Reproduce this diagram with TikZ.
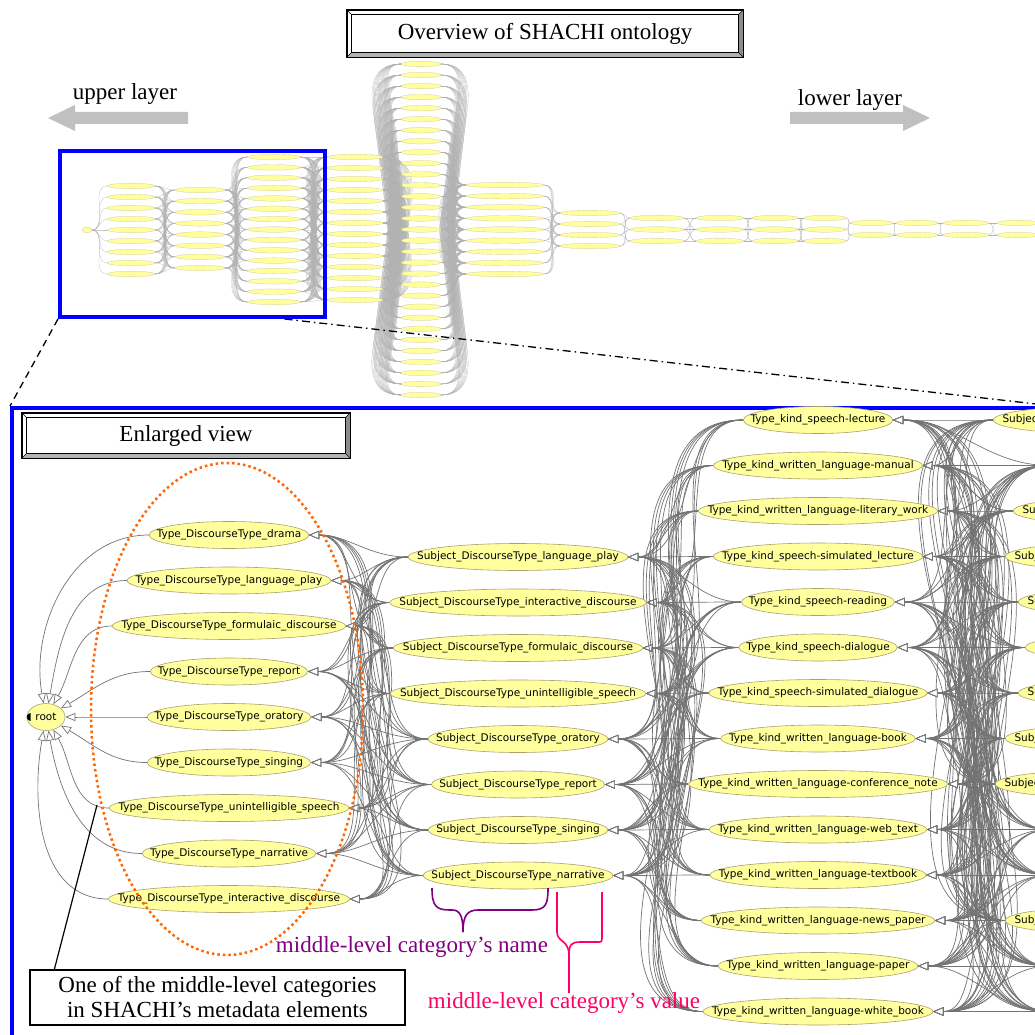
\documentclass[tikz,border=0pt]{standalone}
\usepackage{fontspec}
\setmainfont{Liberation Serif}
\newfontfamily\ontofont{DejaVu Sans}
\usetikzlibrary{arrows.meta,positioning,shapes.geometric,backgrounds}

\definecolor{ontofill}{RGB}{255,255,158}
\definecolor{ontoline}{RGB}{170,160,110}
\definecolor{edgegray}{RGB}{115,115,115}
\definecolor{layergray}{RGB}{192,192,192}
\definecolor{ovalorange}{RGB}{255,102,0}
\definecolor{namepurple}{RGB}{128,0,128}
\definecolor{valuepink}{RGB}{255,0,102}

% squeeze the text box so that the ellipse hugs the label
\newcommand{\olabel}[1]{\makebox[0.74\width]{#1}}
% bevelled frame round a title node
\newcommand{\bevel}[1]{%
  \fill[black!45] (#1.north east) -- (#1.south east) -- ([shift={(-5,-5)}]#1.south east) -- ([shift={(-5,5)}]#1.north east) -- cycle;
  \fill[black!30] (#1.south west) -- (#1.south east) -- ([shift={(-5,-5)}]#1.south east) -- ([shift={(5,-5)}]#1.south west) -- cycle;
  \draw[line width=0.8pt] ([shift={(5,5)}]#1.north west) rectangle ([shift={(-5,-5)}]#1.south east);
  \draw[line width=0.6pt] (#1.north west) -- ([shift={(5,5)}]#1.north west)
    (#1.north east) -- ([shift={(-5,5)}]#1.north east)
    (#1.south west) -- ([shift={(5,-5)}]#1.south west)
    (#1.south east) -- ([shift={(-5,-5)}]#1.south east);
  \draw[line width=1.4pt] (#1.north west) rectangle (#1.south east);}

\begin{document}
\begin{tikzpicture}[x=1pt, y=-1pt, on grid, node distance=45.5pt,
                    font=\fontsize{23}{26}\selectfont]
	  \tikzstyle{onto}=[ellipse, fill=ontofill, draw=ontoline, line width=0.6pt,
	                    inner xsep=3pt, inner ysep=0pt, minimum height=27pt,
	                    font=\ontofont\fontsize{10.5}{12}\selectfont]
	  \tikzstyle{mini}=[ellipse, fill=ontofill, draw=ontoline!70, line width=0.2pt,
	                    inner sep=0pt, minimum height=5.5pt]
	  \tikzstyle{isa}=[draw=edgegray, line width=0.7pt,
	                   -{Triangle[length=10pt, width=8pt, fill=white]}]
	  \tikzstyle{ovedge}=[draw=black!30, line width=0.2pt]
	  \tikzstyle{framed}=[draw, line width=1.4pt, inner sep=0pt]

	  \useasboundingbox (0,0) rectangle (1035,1035);
	  \begin{scope}[on background layer]
	    \fill[white] (0,0) rectangle (1035,1035);
	  \end{scope}

	  % titles and layer arrows
	  \node[framed, minimum width=396pt, minimum height=47pt] (title) at (545,33.5) {Overview of SHACHI ontology};
	  \bevel{title}
	  \node (upperlbl) at (125,94) {upper layer};
	  \node (lowerlbl) at (850,100) {lower layer};
	  \fill[layergray] (48,118) -- (75,105) -- (75,112) -- (188,112) -- (188,124) -- (75,124) -- (75,131) -- cycle;
	  \fill[layergray] (930,118) -- (903,105) -- (903,112) -- (790,112) -- (790,124) -- (903,124) -- (903,131) -- cycle;

	  % overview graph
	  \node[mini, minimum width=10pt] (o0-1) at (87,230) {};
	  \foreach \col/\x/\n/\ya/\yb/\w in {1/131/9/186/274/48, 2/200/8/190/268/50,
	      3/274/15/157/302/53, 4/355/14/157/300/56, 5/421/31/64/395/40,
	      6/505/9/185/274/78, 7/590/4/213/246/60, 8/657/3/218/241/54,
	      9/720/3/218/241/48, 10/775/3/218/241/46, 11/825/3/218/241/42,
	      12/872/2/223/235/42, 13/917/2/223/235/42, 14/966/2/223/235/46,
	      15/1018/2/223/235/42}
	    \foreach \k in {1,...,\n}
	      \node[mini, minimum width=\w pt] (o\col-\k) at (\x, {\ya+(\k-1)*(\yb-\ya)/(\n-1)}) {};
	  \begin{scope}[on background layer]
	    \foreach \col/\n/\nxt/\m in {0/1/1/9, 1/9/2/8, 2/8/3/15, 3/15/4/14, 4/14/5/31,
	        5/31/6/9, 6/9/7/4, 7/4/8/3, 8/3/9/3, 9/3/10/3, 10/3/11/3, 11/3/12/2,
	        12/2/13/2, 13/2/14/2, 14/2/15/2}
	      \foreach \i in {1,...,\n}
	        \foreach \j in {1,...,\m}
	          \draw[ovedge] (o\nxt-\j.west) to[out=180, in=0] (o\col-\i.east);
	  \end{scope}
	  \node[draw=blue, line width=4pt, inner sep=0pt, minimum width=265pt, minimum height=166pt] (ovbox) at (192.5,234) {};

	  % enlarged view
	  \node[draw=blue, line width=4pt, inner sep=0pt, anchor=north west,
	        minimum width=1040pt, minimum height=640pt] (enbox) at (10,406) {};
	  \draw[line width=1.3pt, dash pattern=on 7pt off 5pt] (ovbox.south west) -- (enbox.north west);
	  \draw[line width=1.3pt, dash pattern=on 8pt off 4pt on 1.5pt off 4pt] ([xshift=92pt]ovbox.south) -- (enbox.north east);
	  \node[framed, minimum width=328pt, minimum height=45pt] (enlarged) at (186,435.5) {Enlarged view};
	  \bevel{enlarged}

	  \node[onto, minimum width=38pt] (root) at (46,717) {\olabel{root}};
	  \fill ([xshift=4pt]root.west) ++(0,4) arc [start angle=90, end angle=270, radius=4] -- cycle;

	  \node[onto]         (a1) at (229,535)     {\olabel{Type\_DiscourseType\_drama}};
	  \node[onto]         (a2) [below=of a1]    {\olabel{Type\_DiscourseType\_language\_play}};
	  \node[onto]         (a3) [below=of a2]    {\olabel{Type\_DiscourseType\_formulaic\_discourse}};
	  \node[onto]         (a4) [below=of a3]    {\olabel{Type\_DiscourseType\_report}};
	  \node[onto]         (a5) [below=of a4]    {\olabel{Type\_DiscourseType\_oratory}};
	  \node[onto]         (a6) [below=of a5]    {\olabel{Type\_DiscourseType\_singing}};
	  \node[onto]         (a7) [below=of a6]    {\olabel{Type\_DiscourseType\_unintelligible\_speech}};
	  \node[onto]         (a8) [below=of a7]    {\olabel{Type\_DiscourseType\_narrative}};
	  \node[onto]         (a9) [below=of a8]    {\olabel{Type\_DiscourseType\_interactive\_discourse}};

	  \node[onto]         (b1) at (518,557)     {\olabel{Subject\_DiscourseType\_language\_play}};
	  \node[onto]         (b2) [below=of b1]    {\olabel{Subject\_DiscourseType\_interactive\_discourse}};
	  \node[onto]         (b3) [below=of b2]    {\olabel{Subject\_DiscourseType\_formulaic\_discourse}};
	  \node[onto]         (b4) [below=of b3]    {\olabel{Subject\_DiscourseType\_unintelligible\_speech}};
	  \node[onto]         (b5) [below=of b4]    {\olabel{Subject\_DiscourseType\_oratory}};
	  \node[onto]         (b6) [below=of b5]    {\olabel{Subject\_DiscourseType\_report}};
	  \node[onto]         (b7) [below=of b6]    {\olabel{Subject\_DiscourseType\_singing}};
	  \node[onto]         (b8) [below=of b7]    {\olabel{Subject\_DiscourseType\_narrative}};

	  \node[onto]         (c1) at (818,420)     {\olabel{Type\_kind\_speech-lecture}};
	  \node[onto]         (c2) [below=of c1]    {\olabel{Type\_kind\_written\_language-manual}};
	  \node[onto]         (c3) [below=of c2]    {\olabel{Type\_kind\_written\_language-literary\_work}};
	  \node[onto]         (c4) [below=of c3]    {\olabel{Type\_kind\_speech-simulated\_lecture}};
	  \node[onto]         (c5) [below=of c4]    {\olabel{Type\_kind\_speech-reading}};
	  \node[onto]         (c6) [below=of c5]    {\olabel{Type\_kind\_speech-dialogue}};
	  \node[onto]         (c7) [below=of c6]    {\olabel{Type\_kind\_speech-simulated\_dialogue}};
	  \node[onto]         (c8) [below=of c7]    {\olabel{Type\_kind\_written\_language-book}};
	  \node[onto]         (c9) [below=of c8]    {\olabel{Type\_kind\_written\_language-conference\_note}};
	  \node[onto]        (c10) [below=of c9]    {\olabel{Type\_kind\_written\_language-web\_text}};
	  \node[onto]        (c11) [below=of c10]   {\olabel{Type\_kind\_written\_language-textbook}};
	  \node[onto]        (c12) [below=of c11]   {\olabel{Type\_kind\_written\_language-news\_paper}};
	  \node[onto]        (c13) [below=of c12]   {\olabel{Type\_kind\_written\_language-paper}};
	  \node[onto]        (c14) [below=of c13]   {\olabel{Type\_kind\_written\_language-white\_book}};

	  % next column, cut by the page edge
	  \foreach \row/\lx in {1/993, 2/1050, 3/1013, 4/1005, 5/1018, 6/1025, 7/1018,
	      8/1005, 9/995, 10/1050, 11/1050, 12/1005, 13/1050, 14/1050}
	    \node[onto, anchor=west, minimum width=200pt,
	          label={[font=\ontofont\fontsize{10.5}{12}\selectfont, anchor=west, xshift=6pt]west:Subject}]
	      (d\row) at (\lx, {420+(\row-1)*45.5}) {};

	  \begin{scope}[on background layer]
	    \foreach \i/\ang in {1/100, 2/80, 3/60, 4/30, 5/0, 6/-30, 7/-60, 8/-80, 9/-100}
	      \draw[isa] (a\i.west) to[out=180, in=\ang] (root);
	    \foreach \i in {1,...,9}
	      \foreach \j in {1,...,8}
	        \draw[isa] (b\j.west) to[out=180, in=0] (a\i.east);
	    \foreach \i in {1,...,8}
	      \foreach \j in {1,...,14}
	        \draw[isa] (c\j.west) to[out=180, in=0] (b\i.east);
	    \foreach \i in {1,...,14}
	      \foreach \j in {1,...,14}
	        \draw[isa] (d\j.west) to[out=180, in=0] (c\i.east);
	  \end{scope}

	  % annotations
	  \draw[ovalorange, line width=2.5pt, dash pattern=on 2.5pt off 3pt] (227,709) ellipse [x radius=136, y radius=246];
	  \node[draw, line width=1.3pt, minimum width=375pt, minimum height=55pt, align=center,
	        font=\fontsize{23}{25}\selectfont] (callout) at (217.5,997.5)
	        {One of the middle-level categories\\in SHACHI’s metadata elements};
	  \coordinate (pointer) at (97,805);
	  \draw[line width=1.2pt] ([xshift=25pt]callout.north west) -- (pointer);

	  \draw[namepurple, line width=1.6pt] (432,888) .. controls (432,906) and (436,910) .. (450,910) -- (452,910)
	    .. controls (460,910) and (463,916) .. (463,932);
	  \draw[namepurple, line width=1.6pt] (463,932) .. controls (463,916) and (467,910) .. (478,910) -- (532,910)
	    .. controls (546,910) and (548,904) .. (548,888);
	  \node[text=namepurple] (namelbl) at (412,947) {middle-level category’s name};

	  \draw[valuepink, line width=1.6pt] (557,892) -- (557,932) .. controls (557,942) and (569,940) .. (569,955) -- (569,993);
	  \draw[valuepink, line width=1.6pt] (569,955) .. controls (569,944) and (572,942) .. (580,942) -- (598,942)
	    .. controls (602,942) .. (602,935) -- (602,892);
	  \node[text=valuepink] (valuelbl) at (564,1003) {middle-level category’s value};
	\end{tikzpicture}
\end{document}
